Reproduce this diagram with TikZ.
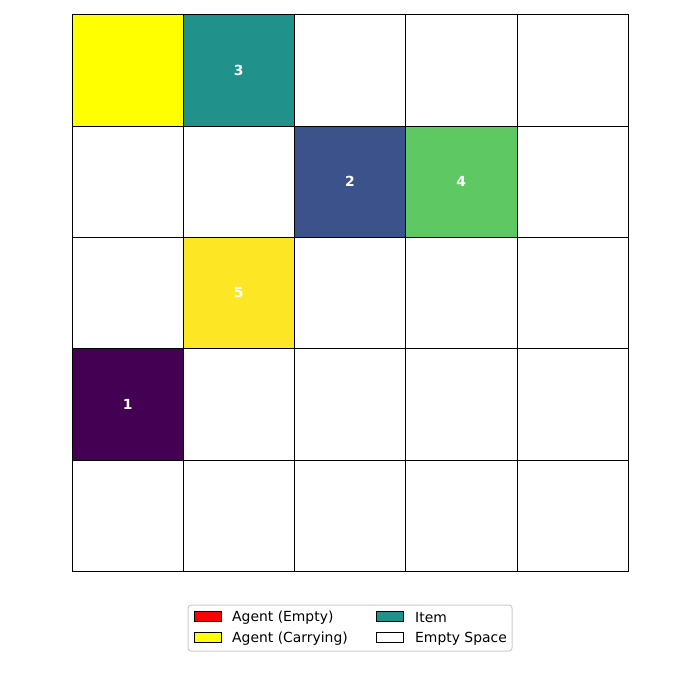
\documentclass[tikz,border=0pt]{standalone}
\usepackage{fontspec}
\setmainfont{DejaVu Sans}
\usetikzlibrary{positioning}
\definecolor{agentyellow}{RGB}{255,255,0}
\definecolor{agentred}{RGB}{255,0,0}
\definecolor{itemteal}{RGB}{33,145,140}
\definecolor{vpurple}{RGB}{68,1,84}
\definecolor{vblue}{RGB}{59,82,139}
\definecolor{vgreen}{RGB}{94,201,98}
\definecolor{vyellow}{RGB}{253,231,37}
\definecolor{framegray}{RGB}{204,204,204}
\newcommand{\gridcell}[3]{%
  \fill[#3] ({72+#1*111.2},{15+#2*111.2}) rectangle ++(111.2,111.2);}

\begin{document}
\begin{tikzpicture}[
  x=1pt, y=-1pt,
  cellnum/.style={font=\bfseries\fontsize{13.9}{16}\selectfont, text=white},
  patch/.style={draw=black, line width=0.8pt, minimum width=27pt, minimum height=10pt, inner sep=0pt},
  legtext/.style={font=\fontsize{13.9}{16}\selectfont, anchor=west, inner sep=0pt}
]
\useasboundingbox (0,0) rectangle (700,700);

% Coloured cells: origin (72,15), cell size 111.2.
\gridcell{0}{0}{agentyellow}
\gridcell{1}{0}{itemteal}
\gridcell{2}{1}{vblue}
\gridcell{3}{1}{vgreen}
\gridcell{1}{2}{vyellow}
\gridcell{0}{3}{vpurple}

% Grid lines.
\foreach \i in {1,...,4} {
  \draw[line width=0.6pt] ({72+\i*111.2},15) -- ({72+\i*111.2},571);
  \draw[line width=0.6pt] (72,{15+\i*111.2}) -- (628,{15+\i*111.2});
}
\draw[line width=1pt] (72,15) rectangle (628,571);

% Cell labels.
\node[cellnum] (n3) at ({72+1.5*111.2},{15+0.5*111.2}) {3};
\node[cellnum] (n2) at ({72+2.5*111.2},{15+1.5*111.2}) {2};
\node[cellnum] (n4) at ({72+3.5*111.2},{15+1.5*111.2}) {4};
\node[cellnum] (n5) at ({72+1.5*111.2},{15+2.5*111.2}) {5};
\node[cellnum] (n1) at ({72+0.5*111.2},{15+3.5*111.2}) {1};

% Legend.
\draw[framegray, fill=white, rounded corners=3pt, line width=1pt]
  (188,605) rectangle (512,651);
\node[patch, fill=agentred]    (pred)    at (208,616.5) {};
\node[patch, fill=agentyellow] (pyellow) at (208,637.5) {};
\node[patch, fill=itemteal]    (pteal)   at (390,616.5) {};
\node[patch, fill=white]       (pwhite)  at (390,637.5) {};
\node[legtext] (lred)    at (232,617.5) {Agent (Empty)};
\node[legtext] (lyellow) at (232,638.5) {Agent (Carrying)};
\node[legtext] (lteal)   at (415,617.5) {Item};
\node[legtext] (lwhite)  at (415,638.5) {Empty Space};

\end{tikzpicture}
\end{document}
